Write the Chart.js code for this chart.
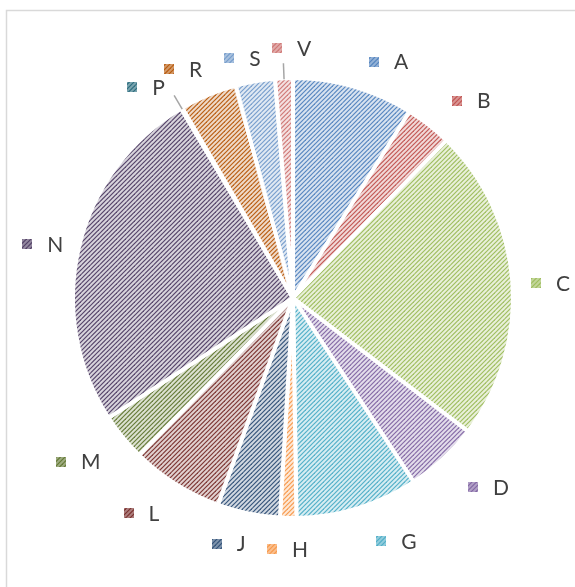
<!DOCTYPE html>
<html>
<head>
<meta charset="utf-8">
<script src="https://cdn.jsdelivr.net/npm/chart.js@4/dist/chart.umd.min.js"></script>
<style>
  html, body { margin: 0; padding: 0; background: #ffffff; }
  #wrap { position: relative; width: 575px; height: 587px; }
</style>
</head>
<body>
<div id="wrap"><canvas id="pie" width="575" height="587"></canvas></div>
<script>
// Categories and their shares of the whole (percent)
const categories = ['A', 'B', 'C', 'D', 'G', 'H', 'J', 'L', 'M', 'N', 'P', 'R', 'S', 'V'];
const shares = [8.9, 3.4, 23.1, 5.4, 9.0, 1.2, 4.6, 6.8, 3.5, 25.7, 0.1, 4.2, 2.9, 1.3];

// Office-style series palette
const seriesColors = ['#4F81BD', '#C0504D', '#9BBB59', '#8064A2', '#4BACC6', '#F79646',
                      '#2C4D75', '#772C2A', '#5F7530', '#4D3B62', '#276A7C', '#B65708',
                      '#729ACA', '#CD7371'];

// Label placement tweaks per category: angle shift (deg) and distance beyond the rim (px)
const labelPlacement = {
  A: [6, 35], B: [4, 46], C: [1, 38], D: [-3, 52], G: [-6, 44], H: [0, 31], J: [3, 34],
  L: [3, 43], M: [2, 50], N: [-1, 36], P: [-4.5, 37], R: [-3, 34], S: [-2, 25], V: [2, 30]
};
const leaderLabels = ['P', 'V'];

function hexToRgb(h) {
  const n = parseInt(h.slice(1), 16);
  return [(n >> 16) & 255, (n >> 8) & 255, n & 255];
}
function tint(h, w) {
  const [r, g, b] = hexToRgb(h);
  const m = c => Math.round(c * (1 - w) + 255 * w);
  return `rgb(${m(r)},${m(g)},${m(b)})`;
}

// Upward-diagonal hatch on a pale tint of the series colour
function hatch(color) {
  const size = 9, step = 4.5;
  const c = document.createElement('canvas');
  c.width = size; c.height = size;
  const g = c.getContext('2d');
  g.fillStyle = tint(color, 0.78);
  g.fillRect(0, 0, size, size);
  g.strokeStyle = tint(color, 0.05);
  g.lineWidth = 1.2;
  for (let k = -1; k <= 5; k++) {
    const s = k * step;
    g.beginPath();
    g.moveTo(s + 2 * size, -2 * size);
    g.lineTo(s - 2 * size, 2 * size);
    g.stroke();
  }
  return g.createPattern(c, 'repeat');
}

const fills = seriesColors.map(hatch);

const frame = {
  id: 'frame',
  beforeDraw(chart) {
    const ctx = chart.ctx;
    ctx.save();
    ctx.strokeStyle = '#D9D9D9';
    ctx.lineWidth = 1.5;
    ctx.beginPath();
    ctx.moveTo(6.5, 700);
    ctx.lineTo(6.5, 10.5);
    ctx.lineTo(700, 10.5);
    ctx.stroke();
    ctx.restore();
  }
};

const sliceLabels = {
  id: 'sliceLabels',
  afterDatasetsDraw(chart) {
    const ctx = chart.ctx;
    const meta = chart.getDatasetMeta(0);
    ctx.save();
    ctx.font = '21px Lato, "Liberation Sans", sans-serif';
    ctx.textBaseline = 'middle';
    ctx.textAlign = 'left';
    meta.data.forEach((arc, i) => {
      const { x, y, startAngle, endAngle, outerRadius } = arc.getProps(['x', 'y', 'startAngle', 'endAngle', 'outerRadius'], true);
      const name = categories[i];
      const mid = (startAngle + endAngle) / 2;
      const [dA, dR] = labelPlacement[name] || [0, 38];
      const a = mid + dA * Math.PI / 180;
      const px = x + Math.cos(a) * (outerRadius + dR);
      const py = y + Math.sin(a) * (outerRadius + dR);

      if (leaderLabels.includes(name)) {
        ctx.strokeStyle = '#A6A6A6';
        ctx.lineWidth = 1.5;
        ctx.beginPath();
        ctx.moveTo(x + Math.cos(mid) * (outerRadius - 1), y + Math.sin(mid) * (outerRadius - 1));
        ctx.lineTo(x + Math.cos(mid) * (outerRadius + 15), y + Math.sin(mid) * (outerRadius + 15));
        ctx.stroke();
      }

      const tw = ctx.measureText(name).width;
      const box = 10, gap = 15;
      const left = px - (box + gap + tw) / 2;
      ctx.fillStyle = fills[i];
      ctx.fillRect(Math.round(left), Math.round(py - box / 2), box, box);
      ctx.globalAlpha = 0.5;
      ctx.fillStyle = seriesColors[i];
      ctx.fillRect(Math.round(left), Math.round(py - box / 2), box, box);
      ctx.globalAlpha = 1;
      ctx.fillStyle = '#404040';
      ctx.fillText(name, left + box + gap, py + 1);
    });
    ctx.restore();
  }
};

new Chart(document.getElementById('pie'), {
  type: 'pie',
  data: {
    labels: categories,
    datasets: [{
      data: shares,
      backgroundColor: fills,
      borderColor: '#ffffff',
      borderWidth: 4
    }]
  },
  options: {
    responsive: false,
    animation: false,
    radius: 220,
    layout: { padding: { left: 11, right: 0, top: 9, bottom: 0 } },
    plugins: {
      legend: { display: false },
      tooltip: { enabled: false }
    }
  },
  plugins: [frame, sliceLabels]
});
</script>
</body>
</html>
